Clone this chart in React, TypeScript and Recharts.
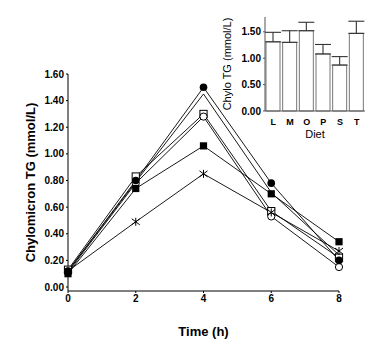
import React from 'react';
import {
  LineChart,
  Line,
  XAxis,
  YAxis,
  Label,
  BarChart,
  Bar,
  ErrorBar,
} from 'recharts';

// time points (h)
const times = [0, 2, 4, 6, 8];

// chylomicron TG (mmol/L) per diet
const dietO = [0.12, 0.8, 1.5, 0.78, 0.2];
const dietT = [0.12, 0.79, 1.45, 0.71, 0.24];
const dietL = [0.13, 0.83, 1.3, 0.57, 0.22];
const dietM = [0.11, 0.78, 1.28, 0.53, 0.15];
const dietP = [0.1, 0.74, 1.06, 0.7, 0.34];
const dietS = [0.12, 0.49, 0.85, 0.56, 0.27];

const yTicks = [0, 0.2, 0.4, 0.6, 0.8, 1.0, 1.2, 1.4, 1.6];

// inset: peak values
const diets = ['L', 'M', 'O', 'P', 'S', 'T'];
const peakMeans = [1.31, 1.3, 1.52, 1.08, 0.87, 1.47];
const peakErrors = [0.18, 0.22, 0.16, 0.18, 0.16, 0.23];
const insetTicks = [0, 0.5, 1.0, 1.5];

const lineData = times.map((t, i) => ({
  time: t,
  O: dietO[i],
  T: dietT[i],
  L: dietL[i],
  M: dietM[i],
  P: dietP[i],
  S: dietS[i],
}));

const barData = diets.map((d, i) => ({
  diet: d,
  mean: peakMeans[i],
  err: [0, peakErrors[i]],
}));

const FONT = 'Arial, "Liberation Sans", sans-serif';

const makeDot = (shape: string) => (props: any) => {
  const { cx, cy, index } = props;
  const k = `${shape}-${index}`;
  if (cx == null || cy == null) return <g key={k} />;
  switch (shape) {
    case 'filledCircle':
      return <circle key={k} cx={cx} cy={cy} r={3.8} fill="#000" />;
    case 'openCircle':
      return <circle key={k} cx={cx} cy={cy} r={3.6} fill="#fff" stroke="#000" strokeWidth={1} />;
    case 'filledSquare':
      return <rect key={k} x={cx - 3.6} y={cy - 3.6} width={7.2} height={7.2} fill="#000" />;
    case 'openSquare':
      return <rect key={k} x={cx - 3.6} y={cy - 3.6} width={7.2} height={7.2} fill="#fff" stroke="#000" strokeWidth={1} />;
    case 'star':
      return (
        <g key={k} stroke="#000" strokeWidth={1}>
          <line x1={cx - 4} y1={cy - 3} x2={cx + 4} y2={cy + 3} />
          <line x1={cx - 4} y1={cy + 3} x2={cx + 4} y2={cy - 3} />
          <line x1={cx} y1={cy - 4} x2={cx} y2={cy + 4} />
        </g>
      );
    default:
      return <g key={k} />;
  }
};

const series = [
  { key: 'T', shape: 'none' },
  { key: 'L', shape: 'openSquare' },
  { key: 'M', shape: 'openCircle' },
  { key: 'P', shape: 'filledSquare' },
  { key: 'S', shape: 'star' },
  { key: 'O', shape: 'filledCircle' },
];

export default function App() {
  return (
    <div style={{ position: 'absolute', left: 0, top: 0, width: 392, height: 346, background: '#fff', fontFamily: FONT }}>
      <LineChart
        width={392}
        height={346}
        data={lineData}
        margin={{ top: 74, right: 53, bottom: 0, left: 0 }}
      >
        <XAxis
          dataKey="time"
          type="number"
          domain={[0, 8]}
          ticks={times}
          height={55}
          stroke="#000"
          tickSize={2}
          tick={{ fontSize: 10, fontWeight: 700, fill: '#000', fontFamily: FONT }}
        >
          <Label
            value="Time (h)"
            position="insideBottom"
            offset={10}
            style={{ fontSize: 13, fontWeight: 700, fill: '#000', fontFamily: FONT }}
          />
        </XAxis>
        <YAxis
          type="number"
          domain={[-0.03, 1.6]}
          ticks={yTicks}
          width={68}
          stroke="#000"
          tickSize={2}
          tickFormatter={(v: number) => v.toFixed(2)}
          tick={{ fontSize: 10, fontWeight: 700, fill: '#000', fontFamily: FONT }}
        >
          <Label
            value="Chylomicron TG (mmol/L)"
            angle={-90}
            position="center"
            dx={-4}
            style={{ fontSize: 13, fontWeight: 700, fill: '#000', fontFamily: FONT, textAnchor: 'middle' }}
          />
        </YAxis>
        {series.map((s) => (
          <Line
            key={s.key}
            dataKey={s.key}
            stroke="#000"
            strokeWidth={0.9}
            dot={s.shape === 'none' ? false : makeDot(s.shape)}
            activeDot={false}
            isAnimationActive={false}
          />
        ))}
      </LineChart>

      <div style={{ position: 'absolute', left: 210, top: 10 }}>
        <BarChart
          width={160}
          height={140}
          data={barData}
          margin={{ top: 7, right: 5, bottom: 0, left: 0 }}
          barCategoryGap={2}
        >
          <XAxis
            dataKey="diet"
            height={39}
            stroke="#555"
            tickLine={false}
            tick={{ fontSize: 9, fontWeight: 700, fill: '#000', fontFamily: FONT }}
          >
            <Label
              value="Diet"
              position="insideBottom"
              offset={12}
              style={{ fontSize: 11, fill: '#000', fontFamily: FONT }}
            />
          </XAxis>
          <XAxis xAxisId="top" dataKey="diet" orientation="top" height={0} tick={false} tickLine={false} stroke="#999" />
          <YAxis
            domain={[0, 1.78]}
            ticks={insetTicks}
            width={55}
            stroke="#555"
            tickSize={2}
            tickFormatter={(v: number) => v.toFixed(2)}
            tick={{ fontSize: 10, fontWeight: 700, fill: '#000', fontFamily: FONT }}
          >
            <Label
              value="Chylo TG (mmol/L)"
              angle={-90}
              position="center"
              dx={-10}
              style={{ fontSize: 11, fill: '#000', fontFamily: FONT, textAnchor: 'middle' }}
            />
          </YAxis>
          <YAxis yAxisId="right" orientation="right" width={0} tick={false} tickLine={false} stroke="#999" />
          <Bar dataKey="mean" fill="#fff" stroke="#777" strokeWidth={1} barSize={14} isAnimationActive={false}>
            <ErrorBar dataKey="err" width={8} stroke="#333" strokeWidth={1.1} direction="y" />
          </Bar>
        </BarChart>
      </div>
    </div>
  );
}
